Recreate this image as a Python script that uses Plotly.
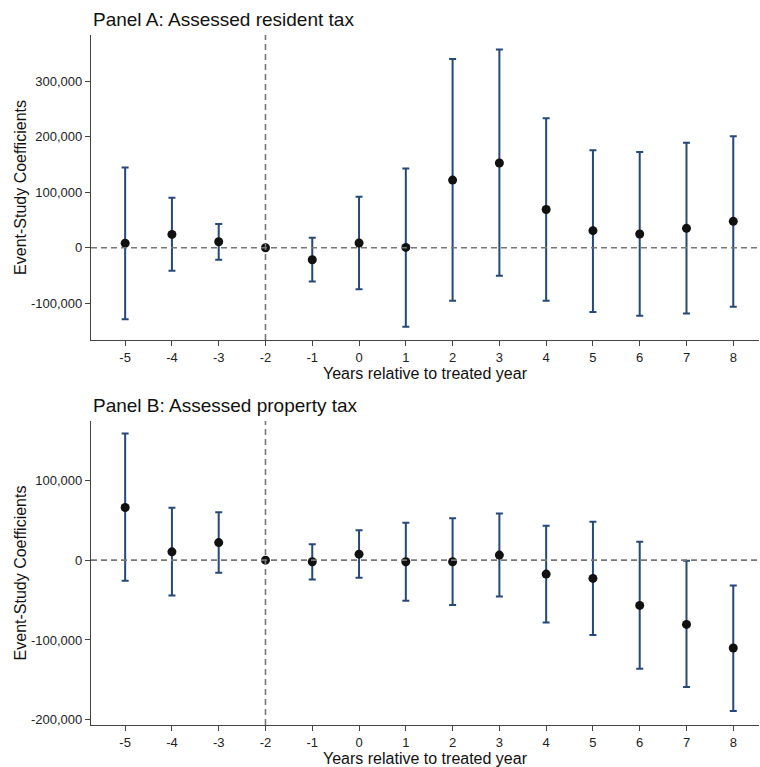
import plotly.graph_objects as go

years = [-5, -4, -3, -2, -1, 0, 1, 2, 3, 4, 5, 6, 7, 8]
year_labels = ["-5", "-4", "-3", "-2", "-1", "0", "1", "2", "3", "4", "5", "6", "7", "8"]

# Panel A: Assessed resident tax
a_coef = [8000, 24000, 10800, 0, -21700, 8500, 500, 122000, 153000, 69000, 30700, 24700, 35000, 47600]
a_upper = [145000, 90000, 43000, 0, 18000, 92000, 143000, 340600, 358000, 233500, 176000, 172700, 189500, 201000]
a_lower = [-129000, -41500, -21700, 0, -61000, -75000, -142600, -96000, -50500, -95700, -116000, -122700, -119000, -106500]

# Panel B: Assessed property tax
b_coef = [66000, 10400, 22000, 0, -2000, 7500, -2000, -2000, 6300, -17500, -22900, -56700, -80500, -110000]
b_upper = [158600, 65500, 60000, 0, 20000, 37500, 46700, 52600, 58400, 43000, 48000, 22900, -800, -31700]
b_lower = [-25900, -44200, -15900, 0, -24200, -22100, -50900, -56300, -45500, -78000, -93900, -136000, -159000, -189000]

a_ticks = [-100000, 0, 100000, 200000, 300000]
a_ticktext = ["-100,000", "0", "100,000", "200,000", "300,000"]
b_ticks = [-200000, -100000, 0, 100000]
b_ticktext = ["-200,000", "-100,000", "0", "100,000"]

ERR_COLOR = "#25497a"
FONT = "Liberation Sans, Arial, Helvetica, sans-serif"

fig = go.Figure()

def add_panel(coef, upper, lower, xa, ya):
    plus = [u - c for u, c in zip(upper, coef)]
    minus = [c - l for c, l in zip(coef, lower)]
    fig.add_trace(go.Scatter(
        x=years, y=coef, mode="markers", xaxis=xa, yaxis=ya,
        marker=dict(color="#111111", size=9),
        error_y=dict(type="data", symmetric=False, array=plus, arrayminus=minus,
                     color=ERR_COLOR, thickness=2, width=3.5),
        showlegend=False, hoverinfo="x+y",
    ))

add_panel(a_coef, a_upper, a_lower, "x", "y")
add_panel(b_coef, b_upper, b_lower, "x2", "y2")

axis_common = dict(
    showgrid=False, zeroline=False, showline=True, linecolor="#444444", linewidth=1.3,
    ticks="outside", ticklen=5, tickcolor="#444444", tickwidth=1,
    tickfont=dict(size=13, color="#222222", family=FONT),
)
title_font = dict(size=16, color="#111111", family=FONT)

xr = [-5.73, 8.55]
fig.update_layout(
    width=760, height=767,
    margin=dict(l=91, r=1, t=35, b=42),
    paper_bgcolor="white", plot_bgcolor="white",
    font=dict(family=FONT, color="#111111"),
    xaxis=dict(domain=[0, 1], anchor="y", range=xr, tickvals=years, ticktext=year_labels,
               title=dict(text="Years relative to treated year", font=title_font, standoff=0),
               **axis_common),
    yaxis=dict(domain=[0.558, 1.0], anchor="x", range=[-166600, 384000], tickvals=a_ticks, ticktext=a_ticktext,
               title=dict(text="Event-Study Coefficients", font=title_font, standoff=0),
               **axis_common),
    xaxis2=dict(domain=[0, 1], anchor="y2", range=xr, tickvals=years, ticktext=year_labels,
                title=dict(text="Years relative to treated year", font=title_font, standoff=0),
                **axis_common),
    yaxis2=dict(domain=[0.0, 0.4406], anchor="x2", range=[-206500, 174300], tickvals=b_ticks, ticktext=b_ticktext,
                title=dict(text="Event-Study Coefficients", font=title_font, standoff=0),
                **axis_common),
)

dash = dict(color="#777777", width=1.6, dash="6px,4px")
for xa, ya in [("x", "y"), ("x2", "y2")]:
    fig.add_shape(type="line", xref=f"{xa} domain", yref=ya, x0=0, x1=1, y0=0, y1=0, line=dash, layer="above")
    fig.add_shape(type="line", xref=xa, yref=f"{ya} domain", x0=-2, x1=-2, y0=0, y1=1, line=dash, layer="above")

fig.add_annotation(text="Panel A: Assessed resident tax", xref="paper", yref="paper", x=0, y=1.0,
                   xanchor="left", yanchor="bottom", yshift=3, showarrow=False,
                   font=dict(size=19, color="#111111", family=FONT))
fig.add_annotation(text="Panel B: Assessed property tax", xref="paper", yref="paper", x=0, y=0.4406,
                   xanchor="left", yanchor="bottom", yshift=3, showarrow=False,
                   font=dict(size=19, color="#111111", family=FONT))

fig.write_html("out.html")
